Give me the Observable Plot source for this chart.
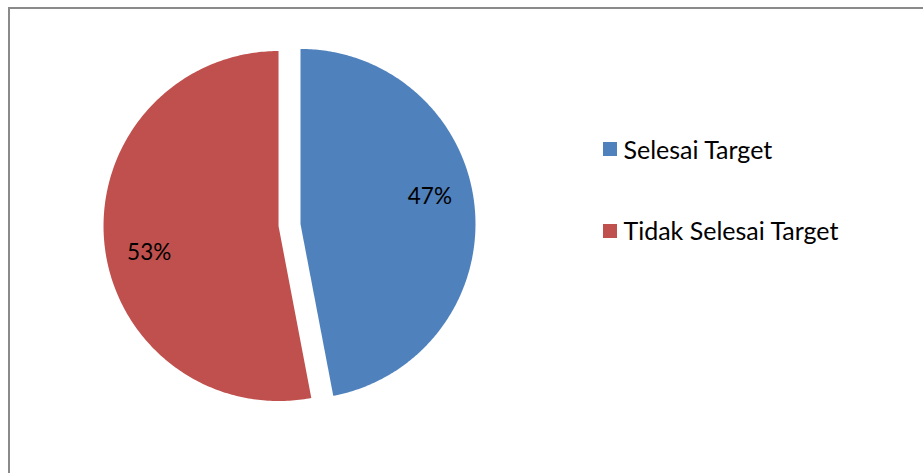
<!DOCTYPE html>
<html><head><meta charset="utf-8">
<script src="https://cdn.jsdelivr.net/npm/d3@7"></script>
<script src="https://cdn.jsdelivr.net/npm/@observablehq/plot@0.6"></script>
<style>
body{margin:0;overflow:hidden;background:#fff;font-family:Lato,sans-serif}
#wrap{position:relative;width:923px;height:473px;overflow:hidden;background:#fff}
#frame{position:absolute;left:8px;top:7px;width:1000px;height:1000px;border:2px solid #8a8a8a;box-sizing:border-box}
#chart{position:absolute;left:0;top:0}
.sw{position:absolute;width:14px;height:14px}
.lt{position:absolute;white-space:nowrap;font-size:25px;line-height:1;color:#000;font-family:Lato,sans-serif}
</style></head><body>
<div id="wrap"><div id="frame"></div><div id="chart"></div><div id="legend"></div></div>
<script>
const categories = ["Selesai Target", "Tidak Selesai Target"];
const values = [47, 53];
const labels = ["47%", "53%"];
const colors = ["#4F81BD", "#C0504D"];

const explode = 0.063;
const labelRadius = 0.755;
const labelRotate = 0.11;

const arcs = d3.pie().sort(null).value(d => d.value)(
  categories.map((c, i) => ({category: c, value: values[i], label: labels[i]}))
);
const pts = [];
const labs = [];
arcs.forEach(s => {
  const mid = (s.startAngle + s.endAngle) / 2;
  const ox = explode * Math.sin(mid), oy = explode * Math.cos(mid);
  const c = s.data.category;
  pts.push({category: c, x: ox, y: oy});
  const n = 240;
  for (let k = 0; k <= n; k++) {
    const a = s.startAngle + (s.endAngle - s.startAngle) * k / n;
    pts.push({category: c, x: ox + Math.sin(a), y: oy + Math.cos(a)});
  }
  pts.push({category: c, x: ox, y: oy});
  const la = mid - labelRotate;
  labs.push({label: s.data.label, x: ox + labelRadius * Math.sin(la), y: oy + labelRadius * Math.cos(la)});
});

const chart = Plot.plot({
  width: 923, height: 473, margin: 0,
  x: {domain: [-1, 1], range: [114, 464], axis: null},
  y: {domain: [-1, 1], range: [399.5, 49.5], axis: null},
  color: {domain: categories, range: colors},
  style: {background: "transparent", overflow: "visible"},
  marks: [
    ...categories.map((c, i) => Plot.line(pts.filter(d => d.category === c), {x: "x", y: "y", fill: colors[i], stroke: "none"})),
    Plot.text(labs, {x: "x", y: "y", text: "label", fontSize: 22.5, fill: "black", fontFamily: "Lato"})
  ]
});
document.getElementById("chart").appendChild(chart);

const legend = document.getElementById("legend");
categories.forEach((c, i) => {
  const top = 142 + i * 81.5;
  const sw = document.createElement("div");
  sw.className = "sw";
  sw.style.left = "603px"; sw.style.top = top + "px"; sw.style.background = colors[i];
  legend.appendChild(sw);
  const t = document.createElement("div");
  t.className = "lt";
  t.style.left = "623.5px"; t.style.top = (top - 5.5) + "px";
  t.textContent = c;
  legend.appendChild(t);
});
</script>
</body></html>
